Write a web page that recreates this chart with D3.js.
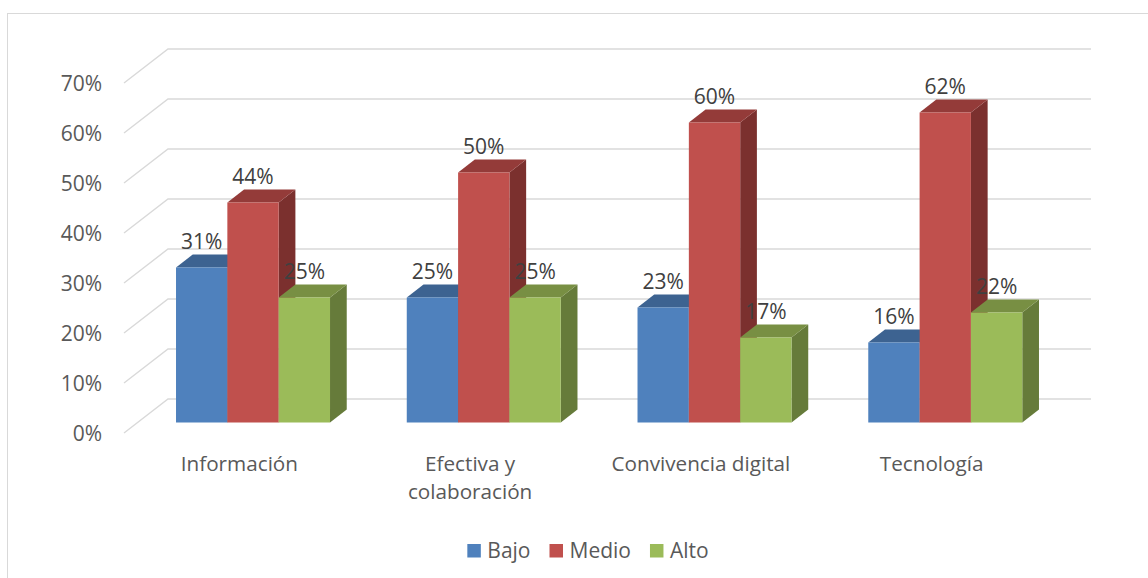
<!DOCTYPE html>
<html>
<head>
<meta charset="utf-8">
<script src="https://cdn.jsdelivr.net/npm/d3@7"></script>
<style>
  html, body { margin: 0; padding: 0; background: #fff; }
  svg { display: block; font-family: "Open Sans", "Liberation Sans", sans-serif; }
</style>
</head>
<body>
<svg id="chart" width="1148" height="578"></svg>
<script>
// Data
const categories = ["Información", "Efectiva y colaboración", "Convivencia digital", "Tecnología"];
const seriesNames = ["Bajo", "Medio", "Alto"];
const bajo  = [0.31, 0.25, 0.23, 0.16];
const medio = [0.44, 0.50, 0.60, 0.62];
const alto  = [0.25, 0.25, 0.17, 0.22];
const yTicks = [0, 0.1, 0.2, 0.3, 0.4, 0.5, 0.6, 0.7];

const seriesValues = [bajo, medio, alto];
const palette = {
  Bajo:  { front: "#4F81BD", top: "#3D6391", side: "#34557D" },
  Medio: { front: "#C0504D", top: "#943B39", side: "#7B302E" },
  Alto:  { front: "#9BBB59", top: "#788F43", side: "#667B3A" }
};

const svg = d3.select("#chart");

// Chart frame
svg.append("rect")
  .attr("x", 7.5).attr("y", 13.5)
  .attr("width", 1160).attr("height", 600)
  .attr("fill", "#fff").attr("stroke", "#d9d9d9").attr("stroke-width", 1);

// Oblique 3D projection: depth 0 = front plane, 1 = back wall
const depthDX = 44, depthDY = -34;
const frontLeft = 124, frontRight = 1047;

const x = d3.scaleBand()
  .domain(categories)
  .range([frontLeft, frontRight])
  .paddingInner(0.3326)
  .paddingOuter(0.1663);

const xs = d3.scaleBand().domain(seriesNames).range([0, x.bandwidth()]);

const y = d3.scaleLinear().domain([0, 0.7]).range([433, 83]);

const P = (px, v, d) => [px + depthDX * d, y(v) + depthDY * d];

// Grid: side wall diagonals and back wall lines
const grid = svg.append("g").attr("stroke", "#d9d9d9").attr("stroke-width", 1.4).attr("fill", "none");
yTicks.forEach(t => {
  const a = P(frontLeft, t, 0), b = P(frontLeft, t, 1), c = P(frontRight, t, 1);
  grid.append("path").attr("d", d3.line()([a, b, c]));
});

// Y axis labels
svg.append("g")
  .selectAll("text")
  .data(yTicks)
  .join("text")
  .attr("x", 102)
  .attr("y", d => y(d))
  .attr("dy", "0.36em")
  .attr("text-anchor", "end")
  .attr("font-size", 21)
  .attr("fill", "#595959")
  .text(d3.format(".0%"));

// Bars
const d0 = 0.31, d1 = 0.69;
const rows = [];
categories.forEach((c, i) => {
  seriesNames.forEach((s, j) => {
    rows.push({ cat: c, series: s, value: seriesValues[j][i] });
  });
});

const barsG = svg.append("g");
rows.forEach(r => {
  const xl = x(r.cat) + xs(r.series);
  const xr = xl + xs.bandwidth();
  const col = palette[r.series];
  const poly = pts => "M" + pts.map(p => p.join(",")).join("L") + "Z";
  // side
  barsG.append("path")
    .attr("d", poly([P(xr, 0, d0), P(xr, 0, d1), P(xr, r.value, d1), P(xr, r.value, d0)]))
    .attr("fill", col.side);
  // top
  barsG.append("path")
    .attr("d", poly([P(xl, r.value, d0), P(xl, r.value, d1), P(xr, r.value, d1), P(xr, r.value, d0)]))
    .attr("fill", col.top);
  // front
  barsG.append("path")
    .attr("d", poly([P(xl, 0, d0), P(xl, r.value, d0), P(xr, r.value, d0), P(xr, 0, d0)]))
    .attr("fill", col.front);
});

// Value labels
svg.append("g")
  .selectAll("text")
  .data(rows)
  .join("text")
  .attr("x", d => P(x(d.cat) + xs(d.series) + xs.bandwidth() / 2, d.value, d0)[0])
  .attr("y", d => P(0, d.value, d1)[1] - 5.5)
  .attr("text-anchor", "middle")
  .attr("font-size", 21)
  .attr("fill", "#404040")
  .text(d => d3.format(".0%")(d.value));

// Category labels (wrapped)
const catG = svg.append("g");
categories.forEach(c => {
  const cx = x(c) + x.bandwidth() / 2;
  const t = catG.append("text")
    .attr("x", cx)
    .attr("y", 471)
    .attr("text-anchor", "middle")
    .attr("font-size", 20.7)
    .attr("fill", "#595959");
  const words = c.split(" ");
  let line = [];
  let tspan = t.append("tspan").attr("x", cx).attr("dy", 0);
  words.forEach(w => {
    line.push(w);
    tspan.text(line.join(" "));
    if (tspan.node().getComputedTextLength() > 205 && line.length > 1) {
      line.pop();
      tspan.text(line.join(" "));
      line = [w];
      tspan = t.append("tspan").attr("x", cx).attr("dy", 28).text(w);
    }
  });
});

// Legend
const legend = svg.append("g");
let lx = 0;
seriesNames.forEach(s => {
  const g = legend.append("g");
  g.append("rect").attr("x", 0).attr("y", 544).attr("width", 13.5).attr("height", 13.5).attr("fill", palette[s].front);
  const tx = g.append("text").attr("x", 20).attr("y", 558).attr("font-size", 21).attr("fill", "#595959").text(s);
  const w = 20 + tx.node().getComputedTextLength();
  g.attr("transform", `translate(${lx},0)`);
  lx += w + 19;
});
const total = lx - 19;
legend.attr("transform", `translate(${588 - total / 2},0)`);
</script>
</body>
</html>
